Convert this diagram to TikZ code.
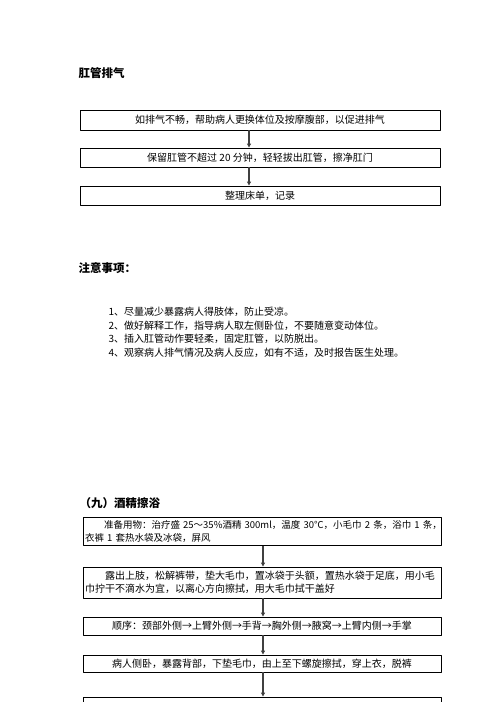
\documentclass[tikz,border=0pt]{standalone}
\usepackage{fontspec}
\setmainfont{Noto Sans CJK SC}
\usetikzlibrary{arrows.meta}
\begin{document}
\begin{tikzpicture}[x=1pt,y=-1pt,>={Triangle[length=4pt,width=4pt]},line join=round,font=\fontsize{10}{13.5}\selectfont,
	box/.style={draw,line width=.9pt,inner sep=3pt},
	wide/.style={box,minimum width=358pt,text width=354pt,inner xsep=2pt,align=left},
	head/.style={anchor=west,font=\fontsize{11.5}{14}\selectfont\bfseries},
	flow/.style={->,line width=1.1pt,draw=black!75}]
	\useasboundingbox (0,0) rectangle (496,702);
	\clip (0,0) rectangle (496,702);
	\path (249,0) coordinate (ax)
	(263,0) coordinate (bx);
	\node[head] (t1) at (75,73) {肛管排气};
	\node[box,minimum width=360pt,minimum height=20pt] (qi1) at (260,120) {如排气不畅，帮助病人更换体位及按摩腹部，以促进排气};
	\node[box,minimum width=360pt,minimum height=19pt] (qi2) at (260,157.5) {保留肛管不超过 20 分钟，轻轻拔出肛管，擦净肛门};
	\node[box,minimum width=360pt,minimum height=19pt] (qi3) at (260,195.5) {整理床单，记录};
	\draw[flow] (qi1.south -| ax) -- (qi2.north -| ax);
	\draw[flow] (qi2.south -| ax) -- (qi3.north -| ax);
	\node[head] (t2) at (75,268) {注意事项：};
	\node[anchor=west,align=left] (zy) at (105,332.5) {1、尽量减少暴露病人得肢体，防止受凉。\\
		2、做好解释工作，指导病人取左侧卧位，不要随意变动体位。\\
		3、插入肛管动作要轻柔，固定肛管，以防脱出。\\
		4、观察病人排气情况及病人反应，如有不适，及时报告医生处理。};
	\node[head] (t3) at (76,503) {（九）酒精擦浴};
	\node[wide,minimum height=27pt,font=\fontsize{9.5}{13.5}\selectfont] (yu1) at (262,531.5) {\mbox{\hspace*{2em}准备用物：治疗盛 25～35\%酒精 300ml，温度 30℃，小毛巾 2 条，浴巾 1 条，}\\衣裤 1 套热水袋及冰袋，屏风};
	\node[wide,minimum height=31pt] (yu2) at (262,582.5) {\hspace*{2em}露出上肢，松解裤带，垫大毛巾，置冰袋于头额，置热水袋于足底，用小毛\\巾拧干不滴水为宜，以离心方向擦拭，用大毛巾拭干盖好};
	\node[box,minimum width=358pt,minimum height=18pt] (yu3) at (262,626) {顺序：颈部外侧→上臂外侧→手背→胸外侧→腋窝→上臂内侧→手掌};
	\node[box,minimum width=358pt,minimum height=17pt] (yu4) at (262,663.5) {病人侧卧，暴露背部，下垫毛巾，由上至下螺旋擦拭，穿上衣，脱裤};
	\node[box,minimum width=358pt,minimum height=20pt] (yu5) at (262,707) {};
	\draw[flow] (yu1.south -| bx) -- (yu2.north -| bx);
	\draw[flow] (yu2.south -| bx) -- (yu3.north -| bx);
	\draw[flow] (yu3.south -| bx) -- (yu4.north -| bx);
	\draw[flow] (yu4.south -| bx) -- (yu5.north -| bx);
\end{tikzpicture}
\end{document}
